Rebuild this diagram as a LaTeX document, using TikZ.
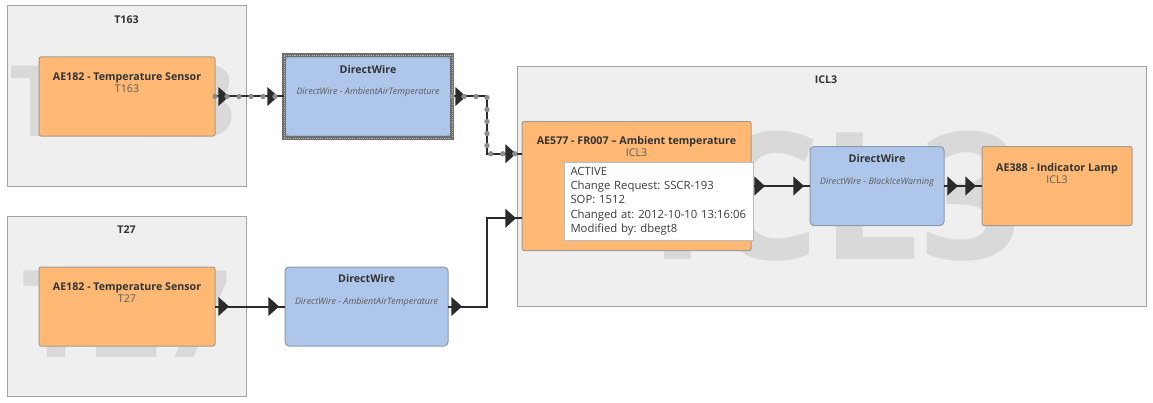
\documentclass[tikz,border=0pt]{standalone}
\usepackage{fontspec}
\setmainfont{Open Sans}
\usetikzlibrary{arrows.meta,decorations.markings,calc}
\definecolor{grpfill}{HTML}{EFEFEF}
\definecolor{grpline}{HTML}{A3A3A3}
\definecolor{wmarkc}{HTML}{D9D9D9}
\definecolor{devfill}{HTML}{FFB975}
\definecolor{devline}{HTML}{A39A90}
\definecolor{wirefill}{HTML}{ADC6E9}
\definecolor{wireline}{HTML}{8D99AC}
\definecolor{selc}{HTML}{6E6E6E}
\definecolor{selhi}{HTML}{B8B8B8}
\definecolor{connc}{HTML}{2B2B2B}
\definecolor{handlec}{HTML}{8C8C8C}
\definecolor{txt}{HTML}{333333}
\definecolor{subtxt}{HTML}{5C5C5C}
\definecolor{tipline}{HTML}{BDBDBD}
\definecolor{tiptxt}{HTML}{3C3C3C}
\tikzset{
  group/.style={draw=grpline, fill=grpfill, line width=0.75pt, inner sep=0pt, outer sep=0pt},
  grptitle/.style={font=\fontsize{8}{9.5}\selectfont\bfseries, text=txt},
  watermark/.style={text=wmarkc, inner sep=0pt},
  device/.style={draw=devline, fill=devfill, line width=0.75pt, rounded corners=1.5pt, inner sep=0pt, outer sep=0pt, minimum height=59.25pt},
  wirebox/.style={draw=wireline, fill=wirefill, line width=0.75pt, rounded corners=3pt, inner sep=0pt, outer sep=0pt, minimum height=59.25pt},
  selframe/.style={draw=selc, line width=3pt, inner sep=0pt, outer sep=0pt, postaction={draw=selhi, line width=0.7pt, dash pattern=on 0.8pt off 0.8pt}},
  boxtext/.style={align=center, font=\fontsize{8}{9}\selectfont, text=txt, inner sep=0pt},
  tooltip/.style={draw=tipline, fill=white, line width=0.75pt, align=left, text width=132pt, inner xsep=4.875pt, minimum height=58.5pt, font=\fontsize{8.5}{10.7}\selectfont\frenchspacing, text=tiptxt},
  link/.style={connc, line width=1.5pt, postaction={decorate, decoration={markings, mark=at position 10.5pt with {\arrow{>}}, mark=at position -4.5pt with {\arrow{>}}}}},
  handles/.style={postaction={decorate, decoration={markings, mark=between positions 0 and 1 step 9pt with {\fill[handlec] (0,0) circle (2pt);}}}}
}
\begin{document}
\begin{tikzpicture}[x=0.75pt, y=-0.75pt, >={Triangle[length=8pt,width=14pt]}]
  \useasboundingbox (0,0) rectangle (1153,403);
  \fill[white] (0,0) rectangle (1153,403);
  \node[group, minimum width=179.25pt, minimum height=135pt] (t163) at (126.5,96) {};
  \node[grptitle] (t163title) at (126.5,20) {T163};
  \node[watermark, font=\fontsize{74}{74}\selectfont\bfseries] (t163mark) at (123,101.5) {T163};
  \node[group, minimum width=179.25pt, minimum height=135pt] (t27) at (126.5,306) {};
  \node[grptitle] (t27title) at (126.5,230) {T27};
  \node[watermark, font=\fontsize{91}{91}\selectfont\bfseries] (t27mark) at (126,313.5) {T27};
  \node[group, minimum width=471.75pt, minimum height=179.25pt] (icl3) at (831.5,186.5) {};
  \node[grptitle] (icl3title) at (826,80) {ICL3};
  \node[watermark, font=\fontsize{133}{133}\selectfont\bfseries] (icl3mark) at (835,196.5) {ICL3};
  \node[device, minimum width=132pt] (sen163) at (127,96.5) {};
  \node[boxtext] (sen163text) at (127,83) {\textbf{AE182 - Temperature Sensor}\\{\color{subtxt}T163}};
  \node[device, minimum width=132pt] (sen27) at (127,306.5) {};
  \node[boxtext] (sen27text) at (127,293) {\textbf{AE182 - Temperature Sensor}\\{\color{subtxt}T27}};
  \node[wirebox, minimum width=124.5pt] (dw1) at (368,96.5) {};
  \node[selframe, minimum width=126pt, minimum height=62.25pt] (dw1sel) at (368,96.5) {};
  \node[boxtext] (dw1text) at (368,81) {\textbf{DirectWire}\\[7pt]{\fontsize{6.7}{7.5}\selectfont\itshape\color{subtxt}DirectWire - AmbientAirTemperature}};
  \node[wirebox, minimum width=122.25pt] (dw2) at (366.5,306.5) {};
  \node[boxtext] (dw2text) at (366.5,290.5) {\textbf{DirectWire}\\[7pt]{\fontsize{6.7}{7.5}\selectfont\itshape\color{subtxt}DirectWire - AmbientAirTemperature}};
  \node[device, minimum width=171.75pt, minimum height=96.75pt] (ae577) at (636.5,186) {};
  \node[boxtext] (ae577text) at (636.5,146.5) {\textbf{AE577 - FR007 – Ambient temperature}\\{\color{subtxt}ICL3}};
  \node[wirebox, minimum width=100.5pt] (dw3) at (877,186) {};
  \node[boxtext] (dw3text) at (877,170.5) {\textbf{DirectWire}\\[7pt]{\fontsize{6.7}{7.5}\selectfont\itshape\color{subtxt}DirectWire - BlackIceWarning}};
  \node[device, minimum width=112.5pt] (ae388) at (1057,186) {};
  \node[boxtext] (ae388text) at (1057,173) {\textbf{AE388 - Indicator Lamp}\\{\color{subtxt}ICL3}};
  \coordinate (jx) at (487,0);
  \coordinate (in1) at ($(ae577.north west)!.25!(ae577.south west)$);
  \coordinate (in2) at ($(ae577.north west)!.75!(ae577.south west)$);
  \draw[link, handles] (sen163) -- (dw1sel);
  \draw[link, handles] (dw1sel.east) -- (dw1sel.east -| jx) |- (in1);
  \draw[link] (sen27) -- (dw2);
  \draw[link] (dw2.east) -- (dw2.east -| jx) |- (in2);
  \draw[link] (ae577) -- (dw3);
  \draw[link] (dw3) -- (ae388);
  \node[tooltip] (tip) at (658.5,201) {ACTIVE\\Change Request: SSCR-193\\SOP: 1512\\Changed at: 2012-10-10 13:16:06\\Modified by: dbegt8};
\end{tikzpicture}
\end{document}
